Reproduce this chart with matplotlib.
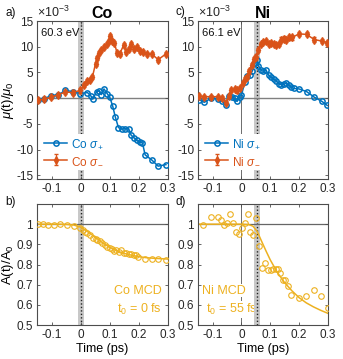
import matplotlib
matplotlib.use("Agg")
import matplotlib.pyplot as plt
from matplotlib.ticker import FormatStrFormatter

plt.rcParams['font.family'] = ['Liberation Sans', 'DejaVu Sans']
plt.rcParams['mathtext.fontset'] = 'custom'
plt.rcParams['mathtext.rm'] = 'Liberation Sans'
plt.rcParams['mathtext.it'] = 'Liberation Sans:italic'
plt.rcParams['axes.unicode_minus'] = False

# ---------------- data ----------------
co_t_plus = [-0.148, -0.127, -0.102, -0.077, -0.053, -0.028, -0.003, 0.023, 0.034, 0.042,
             0.055, 0.063, 0.071, 0.080, 0.091, 0.100, 0.110, 0.119, 0.130, 0.142,
             0.154, 0.165, 0.174, 0.184, 0.193, 0.203, 0.213, 0.222, 0.245, 0.267, 0.294]
co_plus = [-0.3, -0.1, 0.5, 0.7, 1.5, 1.3, 0.9, 1.1, 0.5, -0.1,
           1.3, 1.4, 0.7, 1.8, 0.9, 0.2, -1.5, -3.6, -5.7, -6.0,
           -5.9, -5.9, -7.2, -7.7, -8.2, -8.5, -8.7, -11.0, -12.0, -13.2, -12.9]

co_t_minus = [-0.148, -0.127, -0.102, -0.077, -0.053, -0.028, -0.003, 0.011, 0.023, 0.031,
              0.040, 0.051, 0.057, 0.063, 0.071, 0.080, 0.089, 0.097, 0.100, 0.108,
              0.116, 0.125, 0.134, 0.148, 0.157, 0.166, 0.174, 0.184, 0.193, 0.205,
              0.216, 0.228, 0.245, 0.267, 0.294]
co_minus = [-0.4, -0.2, 0.2, 0.7, 1.2, 1.1, 1.5, 2.5, 3.3, 3.6,
            4.1, 6.7, 7.8, 8.8, 9.3, 10.0, 10.5, 11.1, 12.0, 11.1,
            10.8, 8.8, 8.6, 10.3, 9.0, 9.5, 10.5, 9.5, 10.0, 9.2,
            9.0, 8.6, 8.6, 7.5, 8.6]

ni_t_plus = [-0.147, -0.129, -0.106, -0.082, -0.067, -0.053, -0.044, -0.033, -0.024, -0.015,
             -0.006, 0.000, 0.012, 0.020, 0.029, 0.038, 0.047, 0.053, 0.059, 0.067,
             0.076, 0.085, 0.094, 0.102, 0.112, 0.121, 0.129, 0.139, 0.147, 0.156,
             0.165, 0.173, 0.182, 0.200, 0.226, 0.253, 0.279, 0.298]
ni_plus = [-0.3, -0.8, 0.0, -0.1, -0.6, -1.3, 0.5, 0.3, 0.0, -0.6,
           0.3, 0.6, 3.2, 4.3, 4.5, 5.3, 6.8, 7.5, 6.3, 5.5,
           5.2, 5.5, 4.5, 4.1, 3.7, 3.4, 2.8, 2.6, 2.7, 2.9,
           2.6, 2.1, 1.9, 1.8, 1.3, 0.2, -0.6, -1.4]

ni_t_minus = [-0.149, -0.129, -0.106, -0.082, -0.067, -0.053, -0.044, -0.035, -0.024, -0.015,
              -0.006, 0.004, 0.012, 0.020, 0.027, 0.035, 0.044, 0.051, 0.059, 0.067,
              0.076, 0.085, 0.094, 0.102, 0.112, 0.121, 0.129, 0.139, 0.147, 0.156,
              0.165, 0.176, 0.200, 0.226, 0.253, 0.279, 0.298]
ni_minus = [0.5, 0.3, 0.3, 0.3, 0.0, -1.0, 0.5, 1.6, 1.8, 1.5,
            1.9, 3.0, 3.7, 4.1, 5.2, 6.5, 7.7, 8.1, 9.4, 10.6,
            11.0, 11.1, 10.6, 10.8, 10.6, 10.3, 10.6, 11.4, 11.6, 11.3,
            11.8, 11.8, 12.5, 12.4, 11.4, 11.1, 10.8]

co_mcd_t = [-0.148, -0.131, -0.114, -0.093, -0.072, -0.048, -0.025, -0.002, 0.006, 0.014,
            0.023, 0.032, 0.042, 0.051, 0.057, 0.066, 0.074, 0.082, 0.091, 0.100,
            0.108, 0.116, 0.123, 0.131, 0.140, 0.148, 0.157, 0.165, 0.173, 0.182,
            0.191, 0.199, 0.222, 0.245, 0.267, 0.294]
co_mcd = [1.0, 1.0, 0.995, 0.998, 1.0, 0.995, 0.992, 0.98, 0.972, 0.963,
          0.955, 0.947, 0.933, 0.925, 0.922, 0.917, 0.905, 0.897, 0.888, 0.88,
          0.875, 0.868, 0.872, 0.863, 0.872, 0.858, 0.855, 0.852, 0.852, 0.847,
          0.845, 0.835, 0.828, 0.827, 0.825, 0.822]

co_fit_t = [-0.15, -0.125, -0.1, -0.075, -0.05, -0.025, 0.0, 0.025, 0.05, 0.075,
            0.1, 0.125, 0.15, 0.175, 0.2, 0.225, 0.25, 0.275, 0.3]
co_fit = [1.0, 1.0, 1.0, 1.0, 0.999, 0.996, 0.985, 0.962, 0.935, 0.908,
          0.885, 0.867, 0.855, 0.846, 0.839, 0.834, 0.831, 0.829, 0.827]

ni_mcd_t = [-0.132, -0.106, -0.080, -0.071, -0.061, -0.049, -0.039, -0.029, -0.020, -0.009,
            0.001, 0.012, 0.021, 0.029, 0.039, 0.051, 0.061, 0.073, 0.082, 0.092,
            0.102, 0.109, 0.120, 0.127, 0.135, 0.145, 0.153, 0.161, 0.173, 0.200,
            0.224, 0.251, 0.276, 0.300]
ni_mcd = [0.995, 1.038, 1.038, 1.022, 0.997, 1.008, 1.052, 1.008, 0.963, 0.95,
          0.983, 1.008, 1.052, 0.963, 0.947, 1.03, 0.892, 0.785, 0.805, 0.772,
          0.772, 0.777, 0.777, 0.777, 0.76, 0.722, 0.722, 0.692, 0.65, 0.633,
          0.642, 0.675, 0.642, 0.583]

ni_fit_t = [-0.15, -0.1, -0.05, 0.0, 0.025, 0.04, 0.055, 0.07, 0.085, 0.1,
            0.125, 0.15, 0.175, 0.2, 0.225, 0.25, 0.275, 0.3]
ni_fit = [1.0, 1.0, 1.0, 1.0, 0.998, 0.99, 0.963, 0.915, 0.868, 0.823,
          0.76, 0.71, 0.67, 0.636, 0.61, 0.59, 0.573, 0.558]

co_t0 = 0.0
ni_t0 = 0.055

BLUE = '#0072BD'
ORANGE = '#D95319'
YELLOW = '#EDB120'
AXC = '#4d4d4d'

W, H = 343, 359
fig = plt.figure(figsize=(W / 100, H / 100), dpi=100)


def rect(x0, y0, x1, y1):
    return [x0 / W, (H - y1) / H, (x1 - x0) / W, (y1 - y0) / H]


ax_a = fig.add_axes(rect(37.3, 21, 167.7, 178.5))
ax_b = fig.add_axes(rect(37.3, 204, 167.7, 325))
ax_c = fig.add_axes(rect(198.3, 21, 327.8, 178.5))
ax_d = fig.add_axes(rect(198.3, 204, 327.8, 325))


def style(ax):
    ax.set_xlim(-0.15, 0.3)
    ax.set_xticks([-0.1, 0, 0.1, 0.2, 0.3])
    ax.xaxis.set_major_formatter(FormatStrFormatter('%g'))
    ax.tick_params(direction='in', length=2.5, width=0.6, top=True, right=True,
                   labelsize=8.5, colors='#262626', pad=3)
    ax.tick_params(axis='both', color=AXC)
    for s in ax.spines.values():
        s.set_color(AXC)
        s.set_linewidth(0.8)


def band(ax, t0):
    ax.axvspan(t0 - 0.01, t0 + 0.01, color='#c8c8c8', lw=0, zorder=0.5)
    ax.axvline(t0, color='#222222', ls=(0, (1, 1.5)), lw=1.0, zorder=0.6)


# ---- panels a, c ----
for ax in (ax_a, ax_c):
    style(ax)
    ax.set_ylim(-15.6, 15)
    ax.set_yticks([-15, -10, -5, 0, 5, 10, 15])
    ax.axhline(0, color='#808080', lw=1.0, zorder=0.7)
    ax.set_xticklabels(['-0.1', '0', '0.1', '0.2', '0.3'])
    ax.text(0.0, 1.008, r'$\times$10$^{-3}$', transform=ax.transAxes, fontsize=9,
            color='#262626', ha='left', va='bottom')

band(ax_a, co_t0)
band(ax_c, ni_t0)
ax_c.axvline(0, color='#555555', lw=0.6, zorder=0.4)

la1, = ax_a.plot(co_t_plus, co_plus, '-o', color=BLUE, ms=3.8, mfc='none', mew=1.1, lw=1.1, zorder=3)
la2 = ax_a.errorbar(co_t_minus, co_minus, yerr=0.4, fmt='-d', color=ORANGE, ms=3.6, lw=1.1,
                    elinewidth=0.8, capsize=1.2, zorder=3)
lc1, = ax_c.plot(ni_t_plus, ni_plus, '-o', color=BLUE, ms=3.8, mfc='none', mew=1.1, lw=1.1, zorder=3)
lc2 = ax_c.errorbar(ni_t_minus, ni_minus, yerr=0.4, fmt='-d', color=ORANGE, ms=3.6, lw=1.1,
                    elinewidth=0.8, capsize=1.2, zorder=3)

for ax, h1, h2, name in ((ax_a, la1, la2, 'Co'), (ax_c, lc1, lc2, 'Ni')):
    leg = ax.legend([h1, h2], [name + r' $\sigma_+$', name + r' $\sigma_-$'],
                    loc='lower left', bbox_to_anchor=(0.0, 0.03), fontsize=8.5,
                    frameon=True, facecolor='white', edgecolor='none', framealpha=1,
                    handlelength=1.9, handletextpad=0.35, borderpad=0.3,
                    labelspacing=0.35, borderaxespad=0.3)
    leg.set_zorder(5)
    for txt, c in zip(leg.get_texts(), (BLUE, ORANGE)):
        txt.set_color(c)

ax_a.text(0.03, 0.955, '60.3 eV', transform=ax_a.transAxes, fontsize=8, ha='left', va='top',
          color='#111111', zorder=6)
ax_c.text(0.03, 0.955, '66.1 eV', transform=ax_c.transAxes, fontsize=8, ha='left', va='top',
          color='#111111', zorder=6)
ax_a.set_title('Co', fontsize=11.5, fontweight='bold', pad=2.5)
ax_c.set_title('Ni', fontsize=11.5, fontweight='bold', pad=2.5)
ax_a.set_ylabel(r'$\mu$(t)/$\mu_0$', fontsize=9.5)
ax_a.yaxis.set_label_coords(-0.16, 0.5)

# ---- panels b, d ----
for ax in (ax_b, ax_d):
    style(ax)
    ax.set_ylim(0.5, 1.1)
    ax.set_yticks([0.5, 0.6, 0.7, 0.8, 0.9, 1.0])
    ax.yaxis.set_major_formatter(FormatStrFormatter('%g'))
    ax.set_xticklabels(['-0.1', '0', '0.1', '0.2', '0.3'])
    ax.axhline(1.0, color='#666666', lw=0.9, zorder=0.7)
    ax.set_xlabel('Time (ps)', fontsize=9, labelpad=1)

band(ax_b, co_t0)
band(ax_d, ni_t0)
ax_d.axvline(0, color='#555555', lw=0.6, zorder=0.4)

ax_b.plot(co_mcd_t, co_mcd, 'o', color=YELLOW, ms=4, mfc='none', mew=0.8, zorder=3)
ax_b.plot(co_fit_t, co_fit, '-', color=YELLOW, lw=1.1, zorder=2)
ax_d.plot(ni_mcd_t, ni_mcd, 'o', color=YELLOW, ms=4, mfc='none', mew=0.8, zorder=3)
ax_d.plot(ni_fit_t, ni_fit, '-', color=YELLOW, lw=1.1, zorder=2)

ax_b.text(0.955, 0.285, 'Co MCD', transform=ax_b.transAxes, fontsize=9, ha='right', va='center',
          color=YELLOW)
ax_b.text(0.955, 0.13, r't$_0$ = 0 fs', transform=ax_b.transAxes, fontsize=9, ha='right',
          va='center', color=YELLOW)
ax_d.text(0.03, 0.285, 'Ni MCD', transform=ax_d.transAxes, fontsize=9, ha='left', va='center',
          color=YELLOW, bbox=dict(facecolor='white', edgecolor='none', pad=0.5), zorder=0.45)
ax_d.text(0.06, 0.13, r't$_0$ = 55 fs', transform=ax_d.transAxes, fontsize=9, ha='left',
          va='center', color=YELLOW, bbox=dict(facecolor='white', edgecolor='none', pad=0.5),
          zorder=0.45)
ax_b.set_ylabel(r'A(t)/A$_0$', fontsize=9.5)
ax_b.yaxis.set_label_coords(-0.16, 0.5)

# panel letters
for lbl, x, y in (('a)', 5, 13), ('c)', 175, 12), ('b)', 5, 202), ('d)', 175, 202)):
    fig.text(x / W, 1 - y / H, lbl, fontsize=8.5, ha='left', va='center', color='#111111')

fig.savefig('out.png', dpi=100)
